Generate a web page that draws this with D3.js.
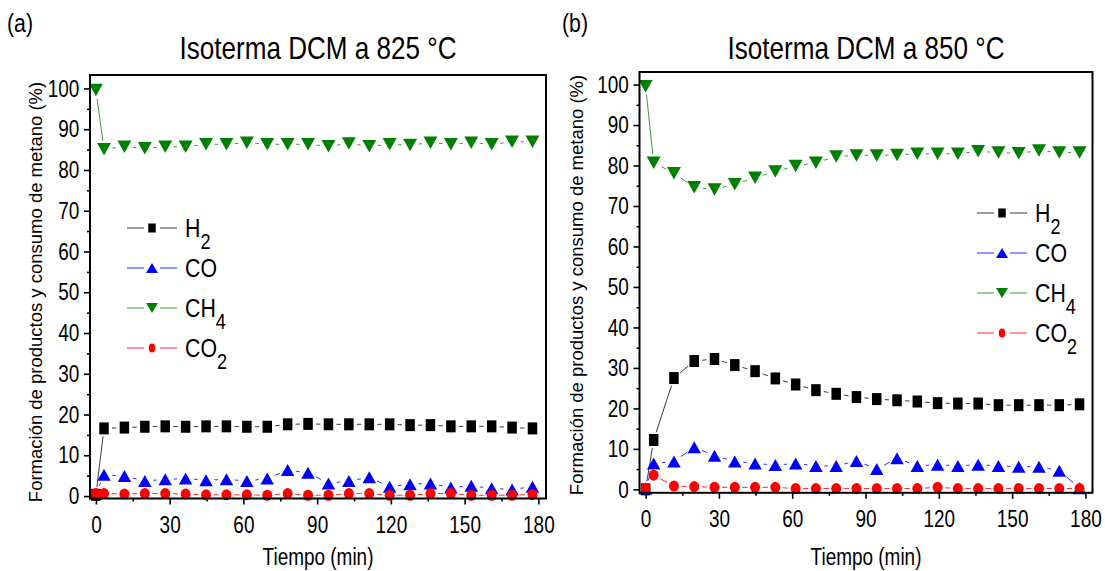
<!DOCTYPE html>
<html>
<head>
<meta charset="utf-8">
<script src="https://cdn.jsdelivr.net/npm/d3@7"></script>
<style>
  body { margin: 0; background: #fff; }
  text { font-family: "Liberation Sans", Arial, sans-serif; fill: #000; }
</style>
</head>
<body>
<div id="chart"></div>
<script>
// tiempo de muestreo (min), igual en las dos isotermas
var tiempo = [0, 3.3, 11.6, 19.9, 28.2, 36.5, 44.8, 53.1, 61.4, 69.7, 78.0, 86.3,
              94.6, 102.9, 111.2, 119.5, 127.8, 136.1, 144.4, 152.7, 161.0, 169.3, 177.6];

// Isoterma a 825 °C (%)
var h2_825  = [0.3, 16.6, 16.8, 17.0, 17.1, 17.0, 17.1, 17.1, 17.0, 17.0, 17.6, 17.7,
               17.6, 17.6, 17.6, 17.6, 17.4, 17.4, 17.1, 17.1, 17.1, 16.8, 16.6];
var co_825  = [0.6, 5.2, 4.9, 3.7, 4.1, 4.3, 3.9, 4.1, 3.7, 4.3, 6.4, 5.7,
               3.1, 3.7, 4.6, 2.3, 2.9, 3.1, 2.1, 2.5, 1.9, 1.6, 2.3];
var ch4_825 = [99.6, 85.1, 85.7, 85.3, 85.7, 85.7, 86.3, 86.3, 86.7, 86.3, 86.3, 86.3,
               85.8, 86.5, 85.8, 86.3, 86.1, 86.7, 86.3, 86.7, 86.3, 86.9, 86.9];
var co2_825 = [0.6, 0.6, 0.5, 0.6, 0.6, 0.5, 0.3, 0.3, 0.3, 0.2, 0.6, 0.2,
               0.2, 0.6, 0.6, 0.2, 0.2, 0.6, 0.6, 0.2, 0.2, 0.2, 0.4];

// Isoterma a 850 °C (%)
var h2_850  = [0, 12.2, 27.5, 31.7, 32.2, 30.7, 29.2, 27.4, 25.9, 24.5, 23.6, 22.8,
               22.3, 22.0, 21.7, 21.3, 21.2, 21.2, 20.8, 20.8, 20.8, 20.8, 21.0];
var co_850  = [0.2, 6.4, 6.9, 10.4, 8.3, 6.9, 6.4, 6.0, 6.4, 5.8, 5.8, 7.0,
               5.0, 7.7, 5.8, 6.1, 5.8, 6.1, 5.8, 5.6, 5.6, 4.6, 0.3];
var ch4_850 = [99.6, 80.7, 78.1, 74.6, 74.1, 75.4, 77.0, 78.5, 79.9, 80.7, 82.2, 82.5,
               82.5, 82.6, 82.9, 82.9, 82.9, 83.5, 83.2, 83.0, 83.7, 83.2, 83.2];
var co2_850 = [0.3, 3.5, 0.8, 0.7, 0.5, 0.5, 0.5, 0.5, 0.2, 0.2, 0.2, 0.2,
               0.2, 0.2, 0.2, 0.5, 0.2, 0.2, 0.2, 0.2, 0.2, 0.2, 0.2];

// ticks
var xTicks = [0, 30, 60, 90, 120, 150, 180];
var xMinor = [15, 45, 75, 105, 135, 165];
var yTicks = [0, 10, 20, 30, 40, 50, 60, 70, 80, 90, 100];
var yMinor = [5, 15, 25, 35, 45, 55, 65, 75, 85, 95];

var nombres = [["H", "2"], ["CO", ""], ["CH", "4"], ["CO", "2"]];

// estilo de cada serie (orden de dibujo: CO2 queda encima)
var estilos = [
    {shape: "square", fill: "#000000", line: "#3a3a3a", gap: 8},
    {shape: "up",     fill: "#0000ff", line: "#2f2fff", gap: 8.5},
    {shape: "down",   fill: "#008000", line: "#3c9c3c", gap: 8.5},
    {shape: "circle", fill: "#ff0000", line: "#ff2a2a", gap: 7.5}
];

var panels = [
    {label: "(a)", title: "Isoterma DCM a 825 °C",
     data: [h2_825, co_825, ch4_825, co2_825],
     box: {l: 90, r: 546, t: 75, b: 498.5}, xdom: [-2.4, 183.1], ydom: [-0.6, 103.3],
     legend: {x: 152, y: 228}, labelPos: [7, 32], ylab: [42, 292]},
    {label: "(b)", title: "Isoterma DCM a 850 °C",
     data: [h2_850, co_850, ch4_850, co2_850],
     box: {l: 639.5, r: 1092.5, t: 72, b: 492.8}, xdom: [-2.5, 182.9], ydom: [-0.85, 103.1],
     legend: {x: 1002, y: 213}, labelPos: [562, 32], ylab: [583, 285]}
];

var SX = 0.79;   // letra estrecha

var svg = d3.select("#chart").append("svg")
    .attr("width", 1105)
    .attr("height", 571);

// marker path centred on 0,0
function marker(shape, w, h) {
    var a = w / 2, b = h / 2;
    if (shape == "square") return "M" + (-a) + "," + (-b) + "H" + a + "V" + b + "H" + (-a) + "Z";
    if (shape == "up") return "M0," + (-b) + "L" + a + "," + b + "L" + (-a) + "," + b + "Z";
    if (shape == "down") return "M0," + b + "L" + a + "," + (-b) + "L" + (-a) + "," + (-b) + "Z";
    return "M" + (-a) + ",0A" + a + "," + b + " 0 1,0 " + a + ",0A" + a + "," + b + " 0 1,0 " + (-a) + ",0Z";
}
var sizeBig = {square: [9.5, 12], up: [13.5, 12], down: [14, 12.5], circle: [10, 11]};
var sizeLeg = {square: [7.5, 9], up: [12, 10], down: [12, 10], circle: [6.5, 9]};

function texto(g, x, y, str, size, anchor, sx) {
    return g.append("text")
        .attr("transform", "translate(" + x + "," + y + ") scale(" + sx + ",1)")
        .attr("text-anchor", anchor)
        .style("font-size", size + "px")
        .text(str);
}

panels.forEach(function(p) {
    var x = d3.scaleLinear().domain(p.xdom).range([p.box.l, p.box.r]);
    var y = d3.scaleLinear().domain(p.ydom).range([p.box.b, p.box.t]);
    var g = svg.append("g");

    // axes (major + minor ticks)
    var ax = g.append("g").attr("transform", "translate(0," + p.box.b + ")")
        .call(d3.axisBottom(x).tickValues(xTicks).tickSize(6).tickPadding(11));
    g.append("g").attr("transform", "translate(0," + p.box.b + ")")
        .call(d3.axisBottom(x).tickValues(xMinor).tickSize(3).tickFormat(""));
    var ay = g.append("g").attr("transform", "translate(" + p.box.l + ",0)")
        .call(d3.axisLeft(y).tickValues(yTicks).tickSize(6).tickPadding(7.5));
    g.append("g").attr("transform", "translate(" + p.box.l + ",0)")
        .call(d3.axisLeft(y).tickValues(yMinor).tickSize(3).tickFormat(""));
    g.selectAll(".domain").remove();
    g.selectAll(".tick line").attr("stroke", "#000").attr("stroke-width", 1.6);
    [ax, ay].forEach(function(a) {
        a.selectAll("text")
            .attr("transform", "scale(" + SX + ",1)")
            .style("font-size", "24px")
            .style("font-family", '"Liberation Sans", Arial, sans-serif')
            .attr("fill", "#000");
    });

    // series
    p.data.forEach(function(vals, si) {
        var st = estilos[si];
        var pts = tiempo.map(function(t, i) { return [x(t), y(vals[i])]; });
        var segs = d3.pairs(pts).map(function(pr) {
            var dx = pr[1][0] - pr[0][0], dy = pr[1][1] - pr[0][1];
            var len = Math.sqrt(dx * dx + dy * dy), ux = dx / len, uy = dy / len;
            return [pr[0][0] + ux * st.gap, pr[0][1] + uy * st.gap,
                    pr[1][0] - ux * st.gap, pr[1][1] - uy * st.gap, len];
        }).filter(function(s) { return s[4] > 2 * st.gap; });
        g.append("g").selectAll("line").data(segs).join("line")
            .attr("x1", function(s) { return s[0]; })
            .attr("y1", function(s) { return s[1]; })
            .attr("x2", function(s) { return s[2]; })
            .attr("y2", function(s) { return s[3]; })
            .attr("stroke", st.line)
            .attr("stroke-width", 1);
        var sz = sizeBig[st.shape];
        g.append("g").selectAll("path").data(pts).join("path")
            .attr("d", marker(st.shape, sz[0], sz[1]))
            .attr("transform", function(d) { return "translate(" + d[0] + "," + d[1] + ")"; })
            .attr("fill", st.fill);
    });

    // frame
    g.append("rect")
        .attr("x", p.box.l).attr("y", p.box.t)
        .attr("width", p.box.r - p.box.l).attr("height", p.box.b - p.box.t)
        .attr("fill", "none").attr("stroke", "#000").attr("stroke-width", 2);

    // legend
    var leg = g.append("g").selectAll("g").data(estilos).join("g")
        .attr("transform", function(d, i) { return "translate(" + p.legend.x + "," + (p.legend.y + i * 40) + ")"; });
    leg.append("line").attr("x1", -25).attr("x2", -8).attr("stroke", function(d) { return d.line; });
    leg.append("line").attr("x1", 8).attr("x2", 25).attr("stroke", function(d) { return d.line; });
    leg.append("path")
        .attr("d", function(d) { var s = sizeLeg[d.shape]; return marker(d.shape, s[0], s[1]); })
        .attr("fill", function(d) { return d.fill; });
    var lt = leg.append("text")
        .attr("transform", "translate(33,9) scale(0.82,1)")
        .style("font-size", "26px");
    lt.append("tspan").text(function(d, i) { return nombres[i][0]; });
    lt.append("tspan").attr("dy", 12).style("font-size", "22px")
        .text(function(d, i) { return nombres[i][1]; });

    // titles and labels
    var cx = (p.box.l + p.box.r) / 2;
    texto(g, cx, 59, p.title, 32, "middle", 0.815);
    texto(g, p.labelPos[0], p.labelPos[1], p.label, 26, "start", 0.82);
    texto(g, cx, 565, "Tiempo (min)", 24, "middle", SX);
    g.append("text")
        .attr("transform", "translate(" + p.ylab[0] + "," + p.ylab[1] + ") rotate(-90) scale(1,0.95)")
        .attr("text-anchor", "middle")
        .style("font-size", "18.5px")
        .text("Formación de productos y consumo de metano (%)");
});
</script>
</body>
</html>
